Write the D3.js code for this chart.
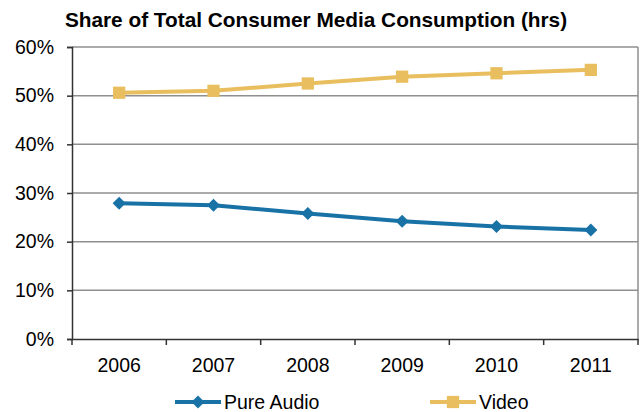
<!DOCTYPE html>
<html><head><meta charset="utf-8">
<script src="https://cdn.jsdelivr.net/npm/d3@7/dist/d3.min.js"></script>
<style>body{margin:0;background:#fff}svg{display:block}text{font-family:"Liberation Sans",Arial,sans-serif;fill:#000}</style>
</head><body><svg id="c" width="641" height="412"></svg>
<script>
const years = ["2006","2007","2008","2009","2010","2011"];
const pureAudio = [27.9, 27.5, 25.8, 24.2, 23.1, 22.4];
const video = [50.6, 51.0, 52.5, 53.9, 54.6, 55.3];
const yTicks = [0,10,20,30,40,50,60];
const title = "Share of Total Consumer Media Consumption (hrs)";
const seriesNames = ["Pure Audio","Video"];
const colors = ["#1872A6","#E8BE5E"];

const svg = d3.select("#c");
const L=72, R=638, T=47, B=339;
const x = d3.scaleBand().domain(years).range([L,R]);
const y = d3.scaleLinear().domain([0,60]).range([B,T]);

svg.append("text").attr("x",316).attr("y",27).attr("text-anchor","middle")
  .attr("font-weight","bold").attr("font-size","20.8px").text(title);

// gridlines
svg.append("g").selectAll("line").data(yTicks.filter(d=>d>0)).join("line")
  .attr("x1",L).attr("x2",R).attr("y1",d=>y(d)).attr("y2",d=>y(d))
  .attr("stroke","#8f8f8f").attr("stroke-width",1.5);
svg.append("line").attr("x1",R).attr("x2",R).attr("y1",T).attr("y2",B)
  .attr("stroke","#8f8f8f").attr("stroke-width",1.5);

// y axis
const ya = svg.append("g").attr("transform",`translate(${L},0)`)
  .call(d3.axisLeft(y).tickValues(yTicks).tickFormat(d=>d+"%").tickSize(5).tickPadding(13));
ya.select(".domain").attr("stroke","#333").attr("stroke-width",1.5);
ya.selectAll(".tick line").attr("stroke","#333").attr("stroke-width",1.5);
ya.selectAll("text").attr("font-size","19.5px").attr("font-family",null);

// x axis
const xa = svg.append("g").attr("transform",`translate(0,${B})`)
  .call(d3.axisBottom(x).tickSize(0).tickPadding(19));
xa.select(".domain").attr("stroke","#333").attr("stroke-width",1.5);
xa.selectAll("text").attr("font-size","19.5px").attr("font-family",null);
const bounds = years.map(d=>x(d)).concat([R]);
svg.append("g").selectAll("line").data(bounds).join("line")
  .attr("x1",d=>d).attr("x2",d=>d).attr("y1",B).attr("y2",B+6)
  .attr("stroke","#333").attr("stroke-width",1.5);

const cx = d=>x(d)+x.bandwidth()/2;
const line = d3.line().x((v,i)=>cx(years[i])).y(v=>y(v));
const diamond = d3.symbol().type(d3.symbolSquare).size(85);
const square = d3.symbol().type(d3.symbolSquare).size(150);
const rot = [45,0];

[[pureAudio,diamond],[video,square]].forEach(([data,sym],k)=>{
  svg.append("path").datum(data).attr("d",line).attr("fill","none")
    .attr("stroke",colors[k]).attr("stroke-width",4);
  svg.append("g").selectAll("path").data(data).join("path")
    .attr("d",sym).attr("fill",colors[k])
    .attr("transform",(v,i)=>`translate(${cx(years[i])},${y(v)}) rotate(${rot[k]})`);
});

// legend
const leg = [{x1:175,x2:221,tx:224},{x1:430,x2:476,tx:479}];
leg.forEach((p,k)=>{
  const ly=402;
  svg.append("line").attr("x1",p.x1).attr("x2",p.x2).attr("y1",ly).attr("y2",ly)
    .attr("stroke",colors[k]).attr("stroke-width",4);
  svg.append("path").attr("d",k===0?diamond():square())
    .attr("fill",colors[k]).attr("transform",`translate(${(p.x1+p.x2)/2},${ly}) rotate(${rot[k]})`);
  svg.append("text").attr("x",p.tx).attr("y",ly).attr("dy","0.35em")
    .attr("font-size","19.5px").text(seriesNames[k]);
});
</script></body></html>
